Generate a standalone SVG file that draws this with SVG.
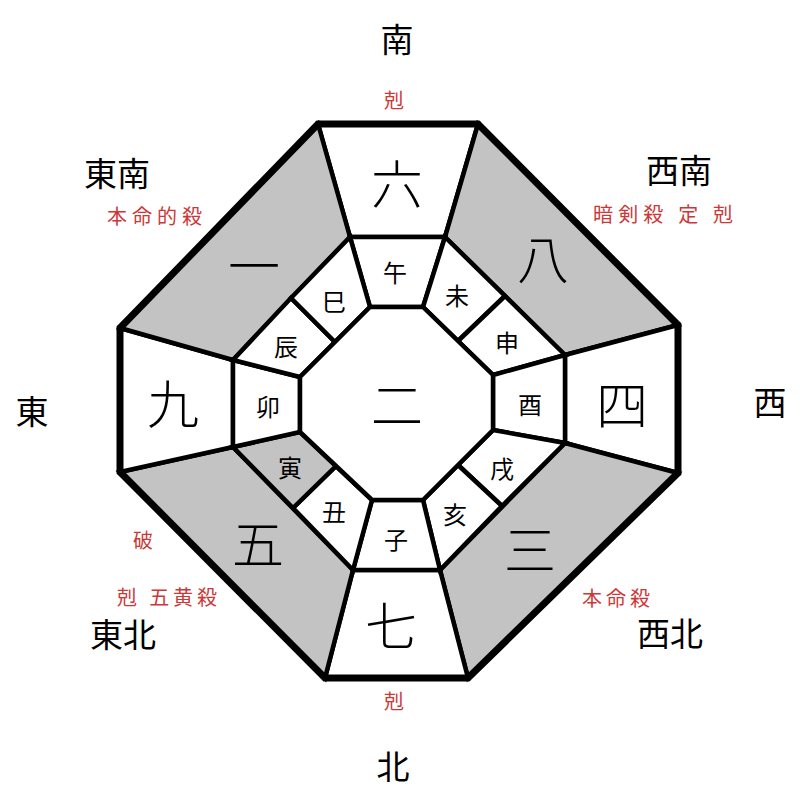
<svg xmlns="http://www.w3.org/2000/svg" width="800" height="800" viewBox="0 0 800 800">
<style>
.c{fill:#fff;stroke:#000;stroke-width:4.5;stroke-linejoin:miter}
.g{fill:#c3c3c3}
text{font-family:"Noto Sans CJK JP","Noto Sans CJK SC",sans-serif;text-anchor:middle;dominant-baseline:central;fill:#000}
.big{font-size:52px;font-weight:300}
.br{font-size:24px}
.dir{font-size:33px}
.red{fill:#cc3838;font-size:20px}
</style>
<rect width="800" height="800" fill="#fff"/>
<g id="cells">
<g id="c6"><polygon class="c" points="318,124 478,124 445,237 350,237"/><text class="big" x="397" y="181">六</text></g>
<g id="c8"><polygon class="c g" points="478,124 678,325 565,355 445,237"/><text class="big" x="543" y="256">八</text></g>
<g id="c4"><polygon class="c" points="678,325 678,473 565,443 565,355"/><text class="big" x="622" y="402">四</text></g>
<g id="c3"><polygon class="c g" points="678,473 468,678 440,570 565,443"/><text class="big" x="530" y="547">三</text></g>
<g id="c7"><polygon class="c" points="468,678 325,678 353,570 440,570"/><text class="big" x="391" y="623">七</text></g>
<g id="c5"><polygon class="c g" points="325,678 120,472 233,447 353,570"/><text class="big" x="258" y="541">五</text></g>
<g id="c9"><polygon class="c" points="120,472 120,328 233,360 233,447"/><text class="big" x="173" y="401">九</text></g>
<g id="c1"><polygon class="c g" points="120,328 318,124 350,237 233,360"/><text class="big" x="254" y="263">一</text></g>
</g>
<g id="branches">
<g id="uma"><polygon class="c" points="350,237 445,237 423,307 370,307"/><text class="br" x="395" y="271">午</text></g>
<g id="hitsuji"><polygon class="c" points="445,237 505,296 458,341 423,307"/><text class="br" x="457" y="294">未</text></g>
<g id="saru"><polygon class="c" points="505,296 565,355 493,375 458,341"/><text class="br" x="507" y="341">申</text></g>
<g id="tori"><polygon class="c" points="565,355 565,443 493,430 493,375"/><text class="br" x="530" y="403">酉</text></g>
<g id="inu"><polygon class="c" points="565,443 502,506 458,465 493,430"/><text class="br" x="502" y="467">戌</text></g>
<g id="i"><polygon class="c" points="502,506 440,570 423,500 458,465"/><text class="br" x="455" y="513">亥</text></g>
<g id="ne"><polygon class="c" points="440,570 353,570 372,500 423,500"/><text class="br" x="396" y="538">子</text></g>
<g id="ushi"><polygon class="c" points="353,570 293,508 336,466 372,500"/><text class="br" x="334" y="510">丑</text></g>
<g id="tora"><polygon class="c g" points="293,508 233,447 300,432 336,466"/><text class="br" x="290" y="466">寅</text></g>
<g id="u"><polygon class="c" points="233,447 233,360 300,377 300,432"/><text class="br" x="268" y="405">卯</text></g>
<g id="tatsu"><polygon class="c" points="233,360 291,298 335,342 300,377"/><text class="br" x="286" y="345">辰</text></g>
<g id="mi"><polygon class="c" points="291,298 350,237 370,307 335,342"/><text class="br" x="334" y="300">巳</text></g>
<g id="center"><polygon class="c" points="370,307 423,307 493,375 493,430 423,500 372,500 300,432 300,377"/><text class="big" x="397" y="402">二</text></g>
</g>
<g id="connectors">
<polygon points="318,124 478,124 678,325 678,473 468,678 325,678 120,472 120,328" fill="none" stroke="#000" stroke-width="7" stroke-linejoin="miter"/>
</g>
<g id="labels">
<text class="dir" x="397" y="38">南</text>
<text class="dir" x="393" y="765">北</text>
<text class="dir" x="32" y="410">東</text>
<text class="dir" x="770" y="401">西</text>
<text class="dir" x="117" y="172">東南</text>
<text class="dir" x="679" y="169">西南</text>
<text class="dir" x="123" y="633">東北</text>
<text class="dir" x="670" y="632">西北</text>
<text class="red" x="394" y="99">剋</text>
<text class="red" x="394" y="700">剋</text>
<text class="red" x="107" y="215" style="text-anchor:start" textLength="95" lengthAdjust="spacing">本命的殺</text>
<text class="red" x="593" y="213" style="text-anchor:start" textLength="140" lengthAdjust="spacing">暗剣殺 定 剋</text>
<text class="red" x="143" y="539">破</text>
<text class="red" x="117" y="596" style="text-anchor:start" textLength="100" lengthAdjust="spacing">剋 五黄殺</text>
<text class="red" x="582" y="597" style="text-anchor:start" textLength="68" lengthAdjust="spacing">本命殺</text>
</g>
</svg>
